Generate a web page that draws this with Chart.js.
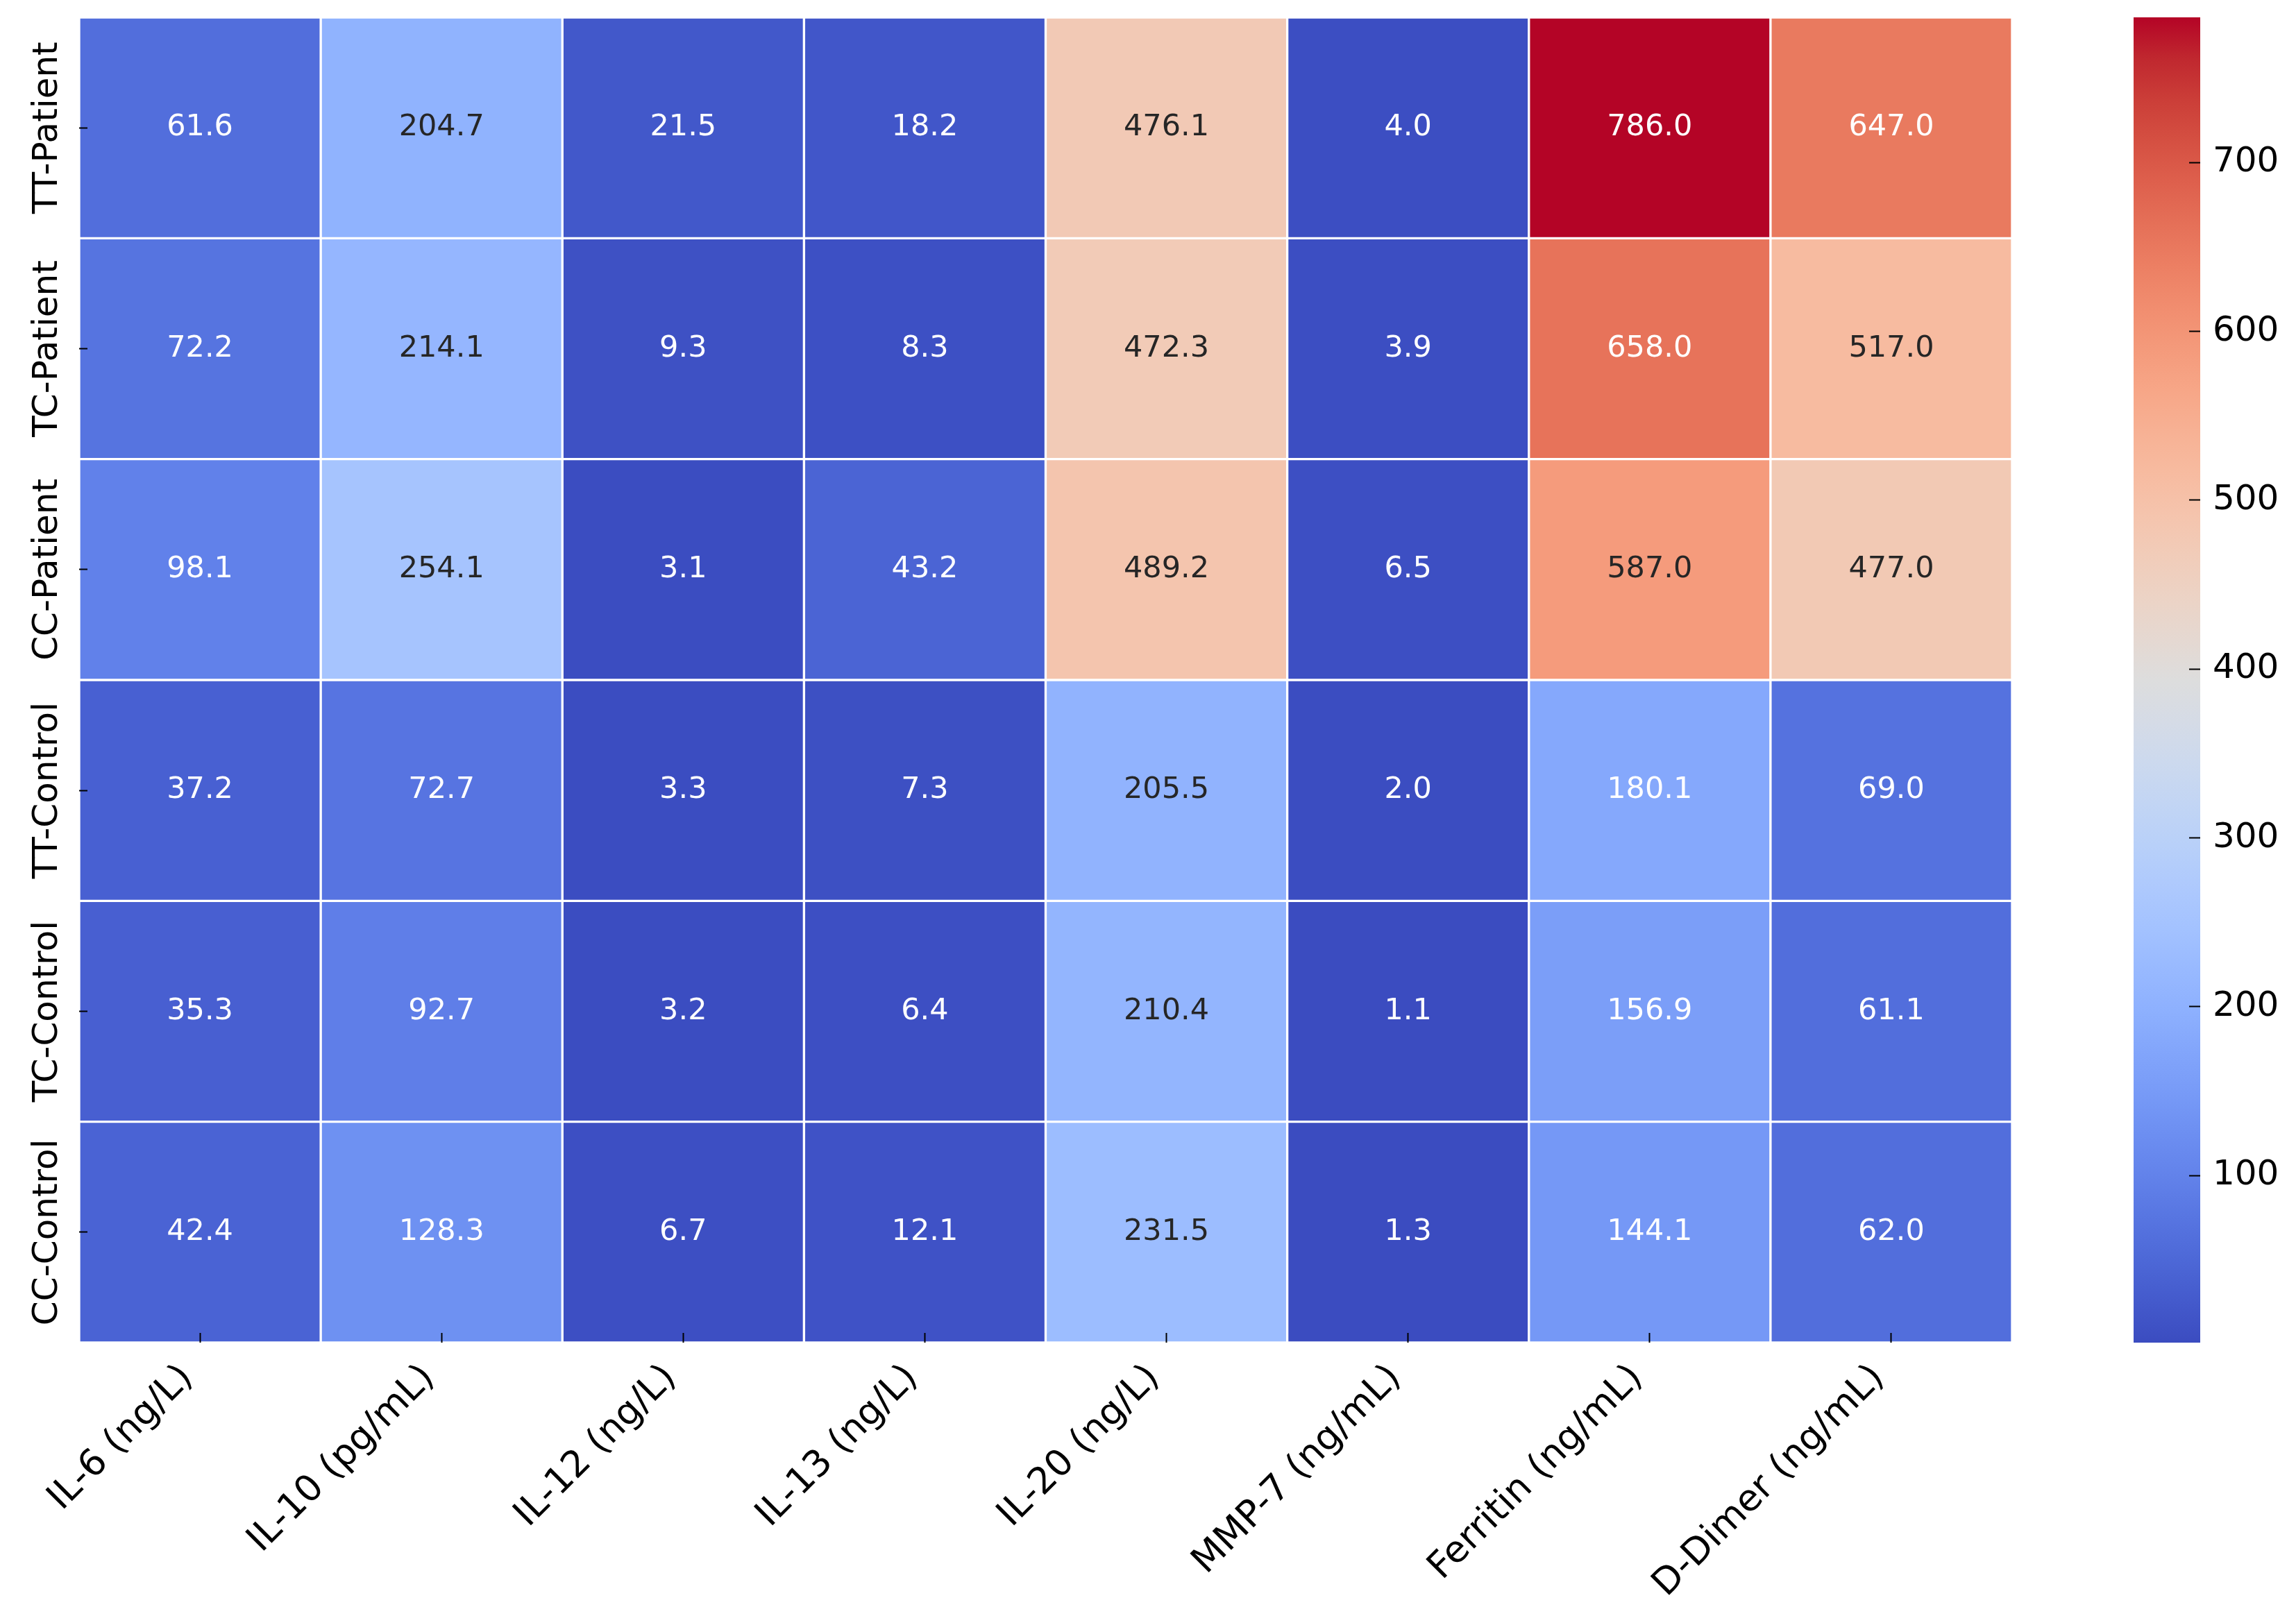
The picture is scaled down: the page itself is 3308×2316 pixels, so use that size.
<!DOCTYPE html>
<html>
<head>
<meta charset="utf-8">
<script src="https://cdn.jsdelivr.net/npm/chart.js@4/dist/chart.umd.min.js"></script>
<style>
  html, body { margin: 0; padding: 0; background: #fff; }
  body { width: 3308px; height: 2316px; position: relative; overflow: hidden; }
  #heatmap { position: absolute; left: 0; top: 0; }
  #colorbar { position: absolute; left: 2950px; top: 0; }
</style>
</head>
<body>
<canvas id="heatmap" width="2950" height="2316"></canvas>
<canvas id="colorbar" width="358" height="2316"></canvas>
<script>
// columns and rows of the heatmap
var markers = ["IL-6 (ng/L)", "IL-10 (pg/mL)", "IL-12 (ng/L)", "IL-13 (ng/L)", "IL-20 (ng/L)", "MMP-7 (ng/mL)", "Ferritin (ng/mL)", "D-Dimer (ng/mL)"];
var groups = ["TT-Patient", "TC-Patient", "CC-Patient", "TT-Control", "TC-Control", "CC-Control"];

// one array per row, same order as markers
var ttPatient = [61.6, 204.7, 21.5, 18.2, 476.1, 4.0, 786.0, 647.0];
var tcPatient = [72.2, 214.1, 9.3, 8.3, 472.3, 3.9, 658.0, 517.0];
var ccPatient = [98.1, 254.1, 3.1, 43.2, 489.2, 6.5, 587.0, 477.0];
var ttControl = [37.2, 72.7, 3.3, 7.3, 205.5, 2.0, 180.1, 69.0];
var tcControl = [35.3, 92.7, 3.2, 6.4, 210.4, 1.1, 156.9, 61.1];
var ccControl = [42.4, 128.3, 6.7, 12.1, 231.5, 1.3, 144.1, 62.0];

var colorbarTicks = [100, 200, 300, 400, 500, 600, 700];

var rows = [ttPatient, tcPatient, ccPatient, ttControl, tcControl, ccControl];
var allValues = [].concat.apply([], rows);
var vmin = Math.min.apply(null, allValues);
var vmax = Math.max.apply(null, allValues);

// coolwarm (Moreland) control points, 33 steps
var coolwarm = [
  [0.2298, 0.2987, 0.7537], [0.2662, 0.3531, 0.8015], [0.3039, 0.4065, 0.8450], [0.3428, 0.4588, 0.8837],
  [0.3830, 0.5094, 0.9174], [0.4244, 0.5581, 0.9456], [0.4667, 0.6046, 0.9682], [0.5096, 0.6483, 0.9848],
  [0.5530, 0.6889, 0.9954], [0.5963, 0.7261, 0.9998], [0.6392, 0.7596, 0.9982], [0.6813, 0.7890, 0.9904],
  [0.7222, 0.8140, 0.9766], [0.7615, 0.8343, 0.9569], [0.7987, 0.8498, 0.9317], [0.8335, 0.8602, 0.9011],
  [0.8654, 0.8654, 0.8654], [0.8978, 0.8489, 0.8209], [0.9241, 0.8274, 0.7745], [0.9445, 0.8009, 0.7267],
  [0.9589, 0.7698, 0.6780], [0.9673, 0.7341, 0.6288], [0.9700, 0.6943, 0.5794], [0.9668, 0.6504, 0.5303],
  [0.9580, 0.6028, 0.4818], [0.9437, 0.5518, 0.4342], [0.9239, 0.4973, 0.3880], [0.8990, 0.4396, 0.3432],
  [0.8692, 0.3783, 0.3003], [0.8346, 0.3129, 0.2593], [0.7956, 0.2413, 0.2205], [0.7525, 0.1572, 0.1841],
  [0.7057, 0.0156, 0.1502]
];

function cmap(t) {
  t = Math.max(0, Math.min(1, t));
  var pos = t * (coolwarm.length - 1);
  var i = Math.min(Math.floor(pos), coolwarm.length - 2);
  var f = pos - i;
  var a = coolwarm[i], b = coolwarm[i + 1];
  return [0, 1, 2].map(function (k) { return a[k] + (b[k] - a[k]) * f; });
}

function rgbString(c) {
  return "rgb(" + c.map(function (v) { return Math.round(v * 255); }).join(",") + ")";
}

function cellColor(v) {
  return cmap((v - vmin) / (vmax - vmin));
}

// same rule seaborn uses for annotation colour
function textColor(v) {
  var c = cellColor(v).map(function (x) {
    return x <= 0.03928 ? x / 12.92 : Math.pow((x + 0.055) / 1.055, 2.4);
  });
  var lum = 0.2126 * c[0] + 0.7152 * c[1] + 0.0722 * c[2];
  return lum > 0.408 ? "#262626" : "#ffffff";
}

Chart.defaults.font.family = "'DejaVu Sans', sans-serif";
Chart.defaults.color = "#000";

var datasets = rows.map(function (vals, r) {
  return {
    label: groups[r],
    data: vals.map(function () { return [r, r + 1]; }),
    values: vals,
    backgroundColor: vals.map(function (v) { return rgbString(cellColor(v)); }),
    borderColor: "#ffffff",
    borderWidth: 2,
    borderSkipped: false,
    barPercentage: 1,
    categoryPercentage: 1,
    grouped: false
  };
});

// numbers in cells and the rotated row labels
var cellLabels = {
  id: "cellLabels",
  afterDatasetsDraw: function (chart) {
    var ctx = chart.ctx;
    ctx.save();
    ctx.font = "43px 'DejaVu Sans'";
    ctx.textAlign = "center";
    ctx.textBaseline = "middle";
    chart.data.datasets.forEach(function (ds, r) {
      var meta = chart.getDatasetMeta(r);
      meta.data.forEach(function (bar, j) {
        var v = ds.values[j];
        ctx.fillStyle = textColor(v);
        ctx.fillText(v.toFixed(1), bar.x, (bar.y + bar.base) / 2);
      });
    });
    ctx.restore();
  },
  afterDraw: function (chart) {
    var ctx = chart.ctx;
    var y = chart.scales.y;
    ctx.save();
    ctx.font = "50px 'DejaVu Sans'";
    ctx.fillStyle = "#000";
    ctx.textAlign = "center";
    ctx.textBaseline = "alphabetic";
    groups.forEach(function (g, i) {
      ctx.save();
      ctx.translate(82, y.getPixelForValue(i + 0.5));
      ctx.rotate(-Math.PI / 2);
      ctx.fillText(g, 0, 0);
      ctx.restore();
    });
    ctx.restore();
  }
};

new Chart(document.getElementById("heatmap"), {
  type: "bar",
  data: { labels: markers, datasets: datasets },
  options: {
    responsive: false,
    animation: false,
    devicePixelRatio: 1,
    layout: { padding: { left: 0, top: 25, right: 51, bottom: 0 } },
    plugins: { legend: { display: false }, tooltip: { enabled: false } },
    scales: {
      x: {
        type: "category",
        offset: true,
        border: { display: false },
        grid: { z: 1, drawOnChartArea: false, offset: false, tickLength: -14, tickWidth: 2, tickColor: "#000" },
        ticks: { font: { size: 53 }, color: "#000", minRotation: 45, maxRotation: 45, padding: 34, labelOffset: -18, autoSkip: false },
        afterFit: function (s) { s.height = 381; }
      },
      y: {
        type: "linear",
        min: 0,
        max: 6,
        reverse: true,
        border: { display: false },
        grid: { z: 1, drawOnChartArea: false, tickLength: -12, tickWidth: 2, tickColor: "#000" },
        afterBuildTicks: function (s) { s.ticks = groups.map(function (g, i) { return { value: i + 0.5 }; }); },
        ticks: { callback: function () { return ""; } },
        afterFit: function (s) { s.width = 114; }
      }
    }
  },
  plugins: [cellLabels]
});

// colour bar
new Chart(document.getElementById("colorbar"), {
  type: "bar",
  data: {
    labels: [""],
    datasets: [{
      data: [[vmin, vmax]],
      backgroundColor: function (c) {
        var area = c.chart.chartArea;
        if (!area) return "#ccc";
        var g = c.chart.ctx.createLinearGradient(0, area.bottom, 0, area.top);
        coolwarm.forEach(function (col, i) { g.addColorStop(i / (coolwarm.length - 1), rgbString(col)); });
        return g;
      },
      borderWidth: 0,
      barPercentage: 1,
      categoryPercentage: 1
    }]
  },
  options: {
    responsive: false,
    animation: false,
    devicePixelRatio: 1,
    layout: { padding: { left: 124, top: 25, right: 0, bottom: 381 } },
    plugins: { legend: { display: false }, tooltip: { enabled: false } },
    scales: {
      x: { display: false },
      y: {
        type: "linear",
        position: "right",
        min: vmin,
        max: vmax,
        border: { display: false },
        grid: { z: 1, drawOnChartArea: false, tickLength: -16, tickWidth: 2, tickColor: "#000" },
        afterBuildTicks: function (s) { s.ticks = colorbarTicks.map(function (v) { return { value: v }; }); },
        ticks: { font: { size: 50 }, color: "#000", padding: 34 },
        afterFit: function (s) { s.width = 138; s.paddingTop = 0; s.paddingBottom = 0; }
      }
    }
  }
});
</script>
</body>
</html>
